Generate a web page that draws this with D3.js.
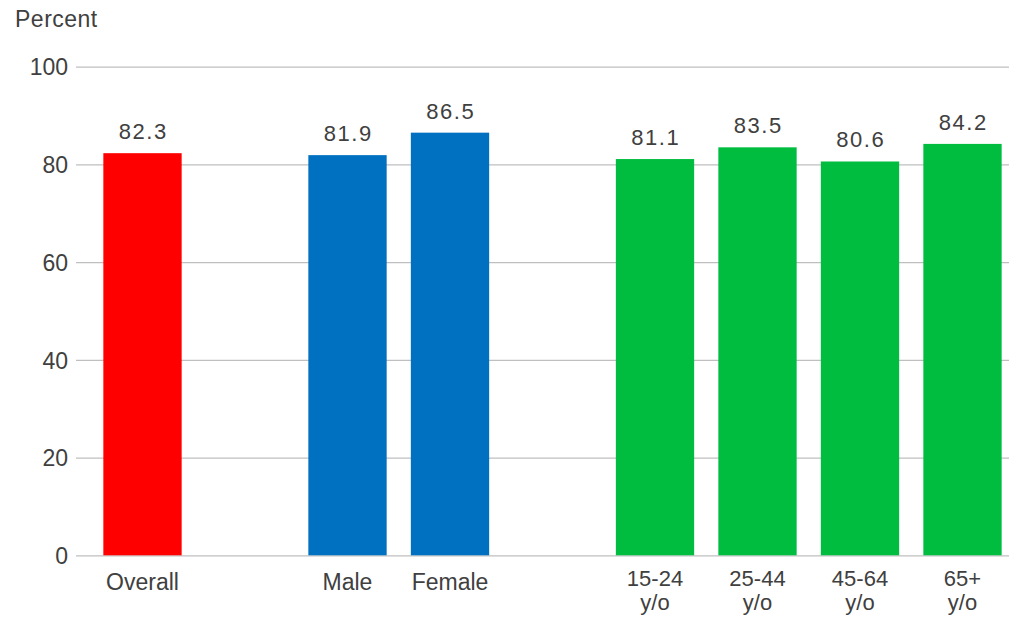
<!DOCTYPE html>
<html>
<head>
<meta charset="utf-8">
<script src="https://cdn.jsdelivr.net/npm/d3@7"></script>
<style>
  html, body { margin: 0; padding: 0; background: #fff; }
  svg { display: block; font-family: "Liberation Sans", Arial, sans-serif; }
</style>
</head>
<body>
<svg id="chart" width="1024" height="626"></svg>
<script>
// Data
const slots = ["Overall", "gapA", "Male", "Female", "gapB", "15-24", "25-44", "45-64", "65+"];
const slotLabels = [["Overall"], [], ["Male"], ["Female"], [], ["15-24", "y/o"], ["25-44", "y/o"], ["45-64", "y/o"], ["65+", "y/o"]];
const values = [82.3, null, 81.9, 86.5, null, 81.1, 83.5, 80.6, 84.2];
const groupColors = ["#FF0000", null, "#0070C0", "#0070C0", null, "#00BD40", "#00BD40", "#00BD40", "#00BD40"];
const yTicks = [0, 20, 40, 60, 80, 100];
const yTitle = "Percent";

const svg = d3.select("#chart");
const textColor = "#404040";

const gridLeft = 76, gridRight = 1009;
const x = d3.scaleBand().domain(slots).range([91.25, 1013.75])
  .paddingInner(0.236).paddingOuter(0.118);
const y = d3.scaleLinear().domain([0, 100]).range([555.3, 66.7]);

// Gridlines + y tick labels
const yAxis = d3.axisLeft(y).tickValues(yTicks).tickSize(-(gridRight - gridLeft)).tickPadding(8);
const gy = svg.append("g").attr("transform", `translate(${gridLeft},0)`).call(yAxis);
gy.select(".domain").remove();
gy.selectAll(".tick line").attr("stroke", "#bfbfbf").attr("stroke-width", 1.3);
gy.selectAll(".tick text").attr("fill", textColor).style("font-size", "23px")
  .attr("x", -8).attr("dy", "0.36em");

// Title
svg.append("text").attr("x", 15).attr("y", 27).attr("fill", textColor)
  .style("font-size", "23px").style("letter-spacing", "0.5px").text(yTitle);

// Bars
const data = slots.map((s, i) => ({ key: s, value: values[i], color: groupColors[i], label: slotLabels[i] }));
const bars = data.filter(d => d.value !== null);

svg.append("g").selectAll("rect").data(bars).join("rect")
  .attr("x", d => x(d.key))
  .attr("width", x.bandwidth())
  .attr("y", d => y(d.value))
  .attr("height", d => y(0) - y(d.value))
  .attr("fill", d => d.color);

// Value labels
svg.append("g").selectAll("text").data(bars).join("text")
  .attr("x", d => x(d.key) + x.bandwidth() / 2 + 0.75)
  .attr("y", d => y(d.value) - 14)
  .attr("text-anchor", "middle")
  .attr("fill", textColor)
  .style("font-size", "22px")
  .style("letter-spacing", "1.5px")
  .text(d => d.value.toFixed(1));

// Category labels
const xl = svg.append("g");
data.forEach(d => {
  if (!d.label.length) return;
  const cx = x(d.key) + x.bandwidth() / 2;
  d.label.forEach((line, i) => {
    xl.append("text")
      .attr("x", cx)
      .attr("y", d.label.length > 1 ? 586 + i * 24 : 590)
      .attr("text-anchor", "middle")
      .attr("fill", textColor)
      .style("font-size", d.label.length > 1 ? "22px" : "23px")
      .text(line);
  });
});
</script>
</body>
</html>
